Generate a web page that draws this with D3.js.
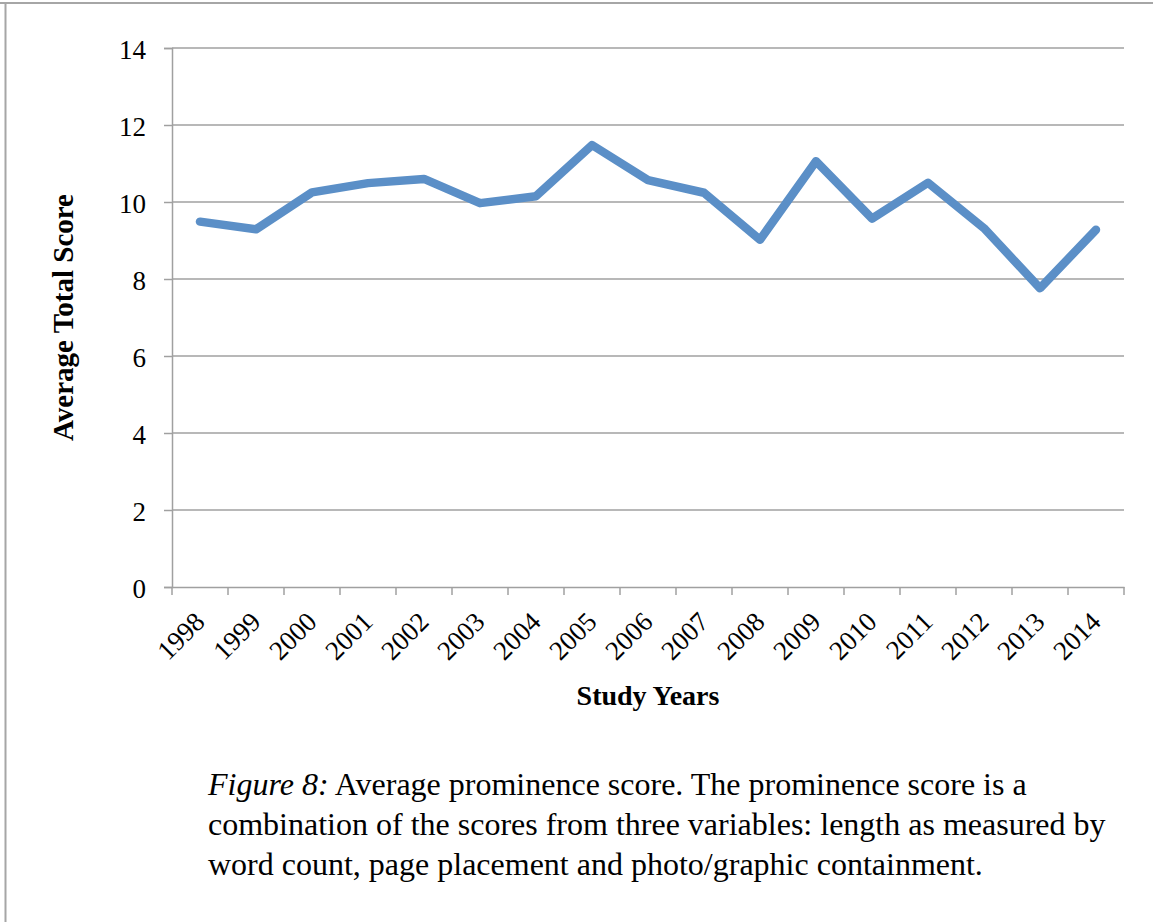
<!DOCTYPE html>
<html>
<head>
<meta charset="utf-8">
<script src="https://cdn.jsdelivr.net/npm/d3@7"></script>
<style>
  body { margin: 0; background: #fff; }
  svg { display: block; }
</style>
</head>
<body>
<div id="chart"></div>
<script>
// data
let years = ["1998", "1999", "2000", "2001", "2002", "2003", "2004", "2005", "2006",
             "2007", "2008", "2009", "2010", "2011", "2012", "2013", "2014"];
let scores = [9.49, 9.29, 10.25, 10.49, 10.6, 9.97, 10.15, 11.48, 10.57,
              10.24, 9.02, 11.06, 9.57, 10.5, 9.32, 7.76, 9.28];
let yTicks = [0, 2, 4, 6, 8, 10, 12, 14];
let captionLines = [
  [{t: "Figure 8:", i: true}, {t: " Average prominence score. The prominence score is a", i: false}],
  [{t: "combination of the scores from three variables: length as measured by", i: false}],
  [{t: "word count, page placement and photo/graphic containment.", i: false}]
];

let W = 1153, H = 922;
let margin = {top: 48, right: 29, bottom: 335, left: 172},
    width = W - margin.left - margin.right,
    height = H - margin.top - margin.bottom;

let gridColor = "#a0a0a0";
let lineColor = "#5b8fc7";
let labelFont = "'Liberation Serif', 'Times New Roman', serif";

let svg = d3.select("#chart").append("svg")
    .attr("width", W)
    .attr("height", H);

// page frame (top and left edges only)
svg.append("line").attr("x1", 0).attr("x2", W).attr("y1", 3).attr("y2", 3)
    .attr("stroke", "#a6a6a6").attr("stroke-width", 2);
svg.append("line").attr("x1", 5.5).attr("x2", 5.5).attr("y1", 3).attr("y2", H)
    .attr("stroke", "#a6a6a6").attr("stroke-width", 2);

let g = svg.append("g")
    .attr("transform", "translate(" + margin.left + "," + margin.top + ")");

let xScale = d3.scaleBand().domain(years).range([0, width]);
let yScale = d3.scaleLinear().domain([0, 14]).range([height, 0]);

// horizontal gridlines
g.selectAll(".grid")
    .data(yTicks.filter(function(d) { return d > 0; }))
    .enter().append("line")
    .attr("class", "grid")
    .attr("x1", 0).attr("x2", width)
    .attr("y1", function(d) { return yScale(d); })
    .attr("y2", function(d) { return yScale(d); })
    .attr("stroke", gridColor).attr("stroke-width", 1.5);

// y axis
let yAxis = g.append("g")
    .call(d3.axisLeft(yScale).tickValues(yTicks).tickSize(8).tickPadding(18));
yAxis.select(".domain").attr("stroke", gridColor).attr("stroke-width", 1.5);
yAxis.selectAll(".tick line").attr("stroke", gridColor).attr("stroke-width", 1.5);
yAxis.selectAll(".tick text")
    .style("font-family", labelFont).style("font-size", "27px").attr("fill", "#000")
    .attr("dy", "0.4em");

// x axis: labels at band centres, ticks at band edges
let xAxis = g.append("g")
    .attr("transform", "translate(0," + height + ")")
    .call(d3.axisBottom(xScale).tickSize(0).tickSizeOuter(0));
xAxis.select(".domain").attr("stroke", gridColor).attr("stroke-width", 1.5);
xAxis.selectAll(".tick text")
    .style("font-family", labelFont).style("font-size", "27px").attr("fill", "#000")
    .attr("y", 0).attr("dy", "0.7em")
    .attr("text-anchor", "end")
    .attr("transform", "translate(-7,23) rotate(-45)");

let edges = years.map(function(d) { return xScale(d); }).concat([width]);
g.selectAll(".xtick")
    .data(edges)
    .enter().append("line")
    .attr("class", "xtick")
    .attr("x1", function(d) { return d; }).attr("x2", function(d) { return d; })
    .attr("y1", height).attr("y2", height + 8)
    .attr("stroke", gridColor).attr("stroke-width", 1.5);

// the series
let line = d3.line()
    .x(function(d, i) { return xScale(years[i]) + xScale.bandwidth() / 2; })
    .y(function(d) { return yScale(d); });

g.append("path")
    .datum(scores)
    .attr("d", line)
    .attr("fill", "none")
    .attr("stroke", lineColor)
    .attr("stroke-width", 8.5)
    .attr("stroke-linejoin", "round")
    .attr("stroke-linecap", "round");

// axis titles
svg.append("text")
    .attr("transform", "translate(73," + (margin.top + height / 2) + ") rotate(-90)")
    .attr("text-anchor", "middle")
    .style("font-family", labelFont).style("font-size", "29px").style("font-weight", "bold")
    .text("Average Total Score");

svg.append("text")
    .attr("x", margin.left + width / 2)
    .attr("y", 705)
    .attr("text-anchor", "middle")
    .style("font-family", labelFont).style("font-size", "28px").style("font-weight", "bold")
    .text("Study Years");

// caption
let caption = svg.append("text")
    .style("font-family", "'Liberation Serif', 'Times New Roman', serif")
    .style("font-size", "32px")
    .attr("fill", "#000");

captionLines.forEach(function(parts, li) {
  parts.forEach(function(p, pi) {
    let ts = caption.append("tspan").text(p.t);
    if (pi === 0) ts.attr("x", 208).attr("y", 795 + li * 40);
    if (p.i) ts.style("font-style", "italic");
  });
});
</script>
</body>
</html>
